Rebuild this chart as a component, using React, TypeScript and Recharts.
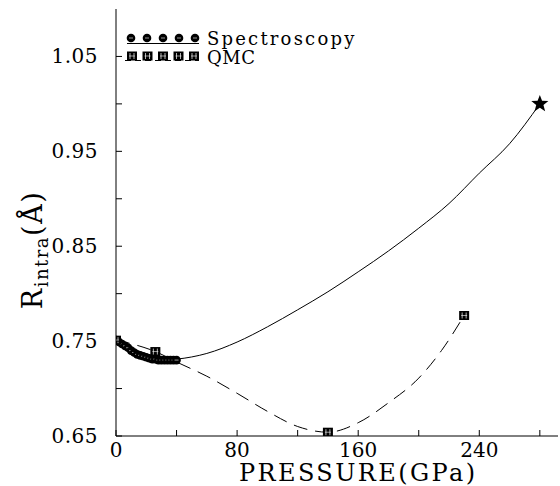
import { ComposedChart, Line, Scatter, XAxis, YAxis, Legend } from 'recharts';

// fitted curves (pressure in GPa, R in angstrom)
const solidP = [0, 10, 20, 30, 40, 60, 80, 100, 120, 140, 160, 180, 200, 220, 240, 260, 280];
const solidR = [0.751, 0.739, 0.732, 0.730, 0.731, 0.737, 0.749, 0.765, 0.783, 0.802, 0.823, 0.845, 0.869, 0.895, 0.927, 0.958, 1.0];

const dashP = [0, 13, 26, 40, 60, 80, 100, 120, 140, 160, 180, 200, 215, 230];
const dashR = [0.751, 0.746, 0.739, 0.728, 0.713, 0.695, 0.676, 0.66, 0.654, 0.664, 0.685, 0.711, 0.74, 0.777];

const specP = [0, 2, 4, 6, 8, 10, 12, 14, 16, 18, 20, 22, 24, 26, 28, 30, 32, 34, 36, 38, 40];
const specR = [0.751, 0.749, 0.747, 0.745, 0.743, 0.74, 0.738, 0.736, 0.735, 0.734, 0.733, 0.732, 0.731, 0.731, 0.73, 0.73, 0.73, 0.73, 0.73, 0.73, 0.73];

const qmcP = [0, 26, 140, 230];
const qmcR = [0.751, 0.739, 0.654, 0.777];

const starP = [280];
const starR = [1.0];

const xTicks = [0, 40, 80, 120, 160, 200, 240, 280];
const yTicks = [0.65, 0.7, 0.75, 0.8, 0.85, 0.9, 0.95, 1.0, 1.05];

const zip = (p: number[], r: number[]) => p.map((v, i) => ({ p: v, r: r[i] }));
const solidData = zip(solidP, solidR);
const dashData = zip(dashP, dashR);
const specData = zip(specP, specR);
const qmcData = zip(qmcP, qmcR);
const starData = zip(starP, starR);

const FONT = '"DejaVu Serif", serif';
const TICK = 6;

const Dot = ({ cx, cy }: any) => (
  <g>
    <circle cx={cx} cy={cy} r={4.3} fill="#000" />
    <line x1={cx - 2} x2={cx + 2} y1={cy} y2={cy} stroke="#fff" strokeWidth={0.6} />
  </g>
);

const Box = ({ cx, cy }: any) => (
  <g>
    <rect x={cx - 5} y={cy - 4.5} width={10} height={9} fill="#000" />
    <line x1={cx - 2} x2={cx - 2} y1={cy - 3} y2={cy + 3} stroke="#fff" strokeWidth={0.7} />
    <line x1={cx + 2} x2={cx + 2} y1={cy - 3} y2={cy + 3} stroke="#fff" strokeWidth={0.7} />
    <line x1={cx - 3} x2={cx + 3} y1={cy} y2={cy} stroke="#fff" strokeWidth={0.6} />
  </g>
);

const Star = ({ cx, cy }: any) => {
  const pts: string[] = [];
  for (let i = 0; i < 10; i++) {
    const rad = i % 2 === 0 ? 9 : 3.8;
    const a = -Math.PI / 2 + (i * Math.PI) / 5;
    pts.push(`${cx + rad * Math.cos(a)},${cy + rad * Math.sin(a)}`);
  }
  return <polygon points={pts.join(' ')} fill="#000" />;
};

const BottomTick = ({ x, y, payload }: any) => (
  <g>
    <line x1={x} x2={x} y1={y} y2={y - TICK} stroke="#000" />
    {payload.value % 80 === 0 && (
      <text x={x} y={y + 21} textAnchor="middle" fontFamily={FONT} fontSize={20} fill="#000">
        {payload.value}
      </text>
    )}
  </g>
);

const TopTick = ({ x, y }: any) => <line x1={x} x2={x} y1={y} y2={y + TICK} stroke="#000" />;

const LeftTick = ({ x, y, payload }: any) => {
  const k = Math.round((payload.value - 0.65) * 100);
  return (
    <g>
      <line x1={x} x2={x + TICK} y1={y} y2={y} stroke="#000" />
      {k % 10 === 0 && (
        <text x={x - 18} y={y + 7} textAnchor="end" fontFamily={FONT} fontSize={20} letterSpacing={0.5} fill="#000">
          {payload.value.toFixed(2)}
        </text>
      )}
    </g>
  );
};

const RightTick = ({ x, y }: any) => <line x1={x} x2={x - TICK} y1={y} y2={y} stroke="#000" />;

const XLabel = ({ viewBox }: any) => (
  <text
    x={viewBox.x + viewBox.width * 0.548}
    y={viewBox.y + 45}
    textAnchor="middle"
    fontFamily={FONT}
    fontSize={24}
    letterSpacing={2.4}
    fill="#000"
  >
    PRESSURE(GPa)
  </text>
);

const YLabel = () => (
  <text
    transform="translate(42,250) rotate(-90)"
    textAnchor="middle"
    fontFamily={FONT}
    fontSize={27}
    letterSpacing={1.5}
    fill="#000"
  >
    R
    <tspan fontSize={18} dy={6}>intra</tspan>
    <tspan dy={-6}>(Å)</tspan>
  </text>
);

const LegendBox = () => (
  <svg width={260} height={48}>
    {[0, 1, 2, 3, 4].map((i) => (
      <Dot key={`d${i}`} cx={6 + i * 16} cy={14} />
    ))}
    <line x1={2} x2={74} y1={19.5} y2={19.5} stroke="#000" />
    <text x={82} y={21} fontFamily={FONT} fontSize={18} letterSpacing={2.2} fill="#000">
      Spectroscopy
    </text>
    {[0, 1, 2, 3, 4].map((i) => (
      <Box key={`b${i}`} cx={7 + i * 15.5} cy={32} />
    ))}
    <line x1={0} x2={74} y1={36.5} y2={36.5} stroke="#000" strokeDasharray="6 4" />
    <text x={82} y={40} fontFamily={FONT} fontSize={18} letterSpacing={0.5} fill="#000">
      QMC
    </text>
  </svg>
);

export default function App() {
  return (
    <div style={{ position: 'absolute', left: 0, top: 0, width: 560, height: 486, background: '#fff' }}>
      <ComposedChart width={560} height={486} margin={{ top: 9, right: 2, bottom: 0, left: 0 }}>
        <XAxis
          xAxisId="b"
          dataKey="p"
          type="number"
          domain={[0, 292]}
          ticks={xTicks}
          allowDataOverflow
          height={50}
          tickSize={0}
          tickMargin={0}
          tickLine={false}
          axisLine={{ stroke: '#000' }}
          tick={<BottomTick />}
          label={<XLabel />}
        />
        <XAxis
          xAxisId="t"
          orientation="top"
          dataKey="p"
          type="number"
          domain={[0, 292]}
          ticks={xTicks}
          allowDataOverflow
          height={0}
          tickSize={0}
          tickMargin={0}
          tickLine={false}
          axisLine={{ stroke: '#000' }}
          tick={<TopTick />}
        />
        <YAxis
          yAxisId="l"
          type="number"
          domain={[0.65, 1.1]}
          ticks={yTicks}
          allowDataOverflow
          width={116}
          tickSize={0}
          tickMargin={0}
          tickLine={false}
          axisLine={{ stroke: '#000' }}
          tick={<LeftTick />}
          label={<YLabel />}
        />
        <YAxis
          yAxisId="r"
          orientation="right"
          type="number"
          domain={[0.65, 1.1]}
          ticks={yTicks}
          allowDataOverflow
          width={0}
          tickSize={0}
          tickMargin={0}
          tickLine={false}
          axisLine={{ stroke: '#000' }}
          tick={<RightTick />}
        />
        <Legend
          layout="horizontal"
          verticalAlign="middle"
          align="center"
          content={<LegendBox />}
          wrapperStyle={{ position: 'absolute', left: 125, top: 24, width: 260, height: 48 }}
        />
        <Line
          xAxisId="b"
          yAxisId="l"
          data={solidData}
          dataKey="r"
          type="monotone"
          stroke="#000"
          strokeWidth={1}
          dot={false}
          isAnimationActive={false}
        />
        <Line
          xAxisId="b"
          yAxisId="l"
          data={dashData}
          dataKey="r"
          type="monotone"
          stroke="#000"
          strokeWidth={1}
          strokeDasharray="14 8"
          dot={false}
          isAnimationActive={false}
        />
        <Scatter xAxisId="b" yAxisId="l" data={specData} dataKey="r" shape={<Dot />} isAnimationActive={false} />
        <Scatter xAxisId="b" yAxisId="l" data={qmcData} dataKey="r" shape={<Box />} isAnimationActive={false} />
        <Scatter xAxisId="b" yAxisId="l" data={starData} dataKey="r" shape={<Star />} isAnimationActive={false} />
      </ComposedChart>
    </div>
  );
}
